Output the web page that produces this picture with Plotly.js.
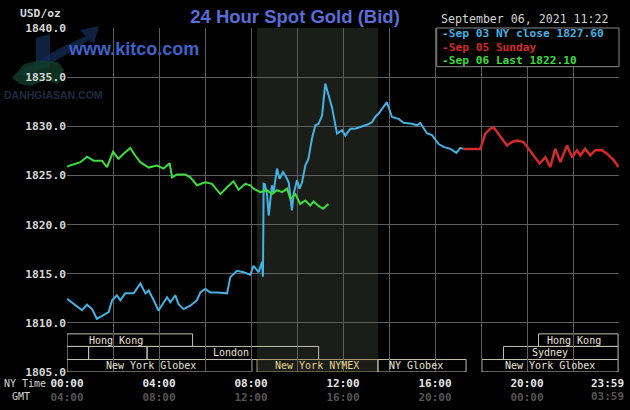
<!DOCTYPE html>
<html><head><meta charset="utf-8">
<script src="https://cdn.plot.ly/plotly-3.0.1.min.js"></script>
<style>html,body{margin:0;padding:0;background:#000;}#chart{width:630px;height:410px;}</style>
</head><body><div id="chart"></div>
<script>
// Time in hours (New York time), price in USD/oz
const sep03Hours = [0,0.29,0.65,0.87,1.09,1.3,1.59,1.81,1.96,2.17,2.32,2.53,2.9,3.19,3.41,3.55,3.77,3.98,4.35,4.49,4.71,4.85,5.07,5.36,5.65,5.8,6.01,6.23,6.52,6.96,7.1,7.39,7.68,7.97,8.11,8.33,8.48,8.52,8.55,8.6,8.7,8.77,8.91,8.98,9.13,9.24,9.39,9.49,9.64,9.78,9.85,10.0,10.11,10.22,10.36,10.5,10.65,10.8,10.94,11.09,11.23,11.37,11.52,11.74,11.96,12.1,12.32,12.53,12.75,13.04,13.26,13.4,13.55,13.7,13.91,14.13,14.42,14.63,15.0,15.22,15.36,15.65,15.87,16.16,16.37,16.67,16.93,17.1,17.24];
const sep03Price = [1812.45,1811.9,1811.3,1811.85,1811.4,1810.4,1810.75,1811.1,1812.3,1812.8,1812.3,1813.0,1813.0,1814.0,1813.0,1813.3,1812.3,1811.25,1812.6,1812.1,1812.8,1811.9,1811.4,1811.75,1812.3,1813.1,1813.45,1813.1,1813.1,1813.0,1814.65,1815.3,1815.15,1814.9,1815.8,1815.15,1816.2,1814.7,1824.15,1824.1,1823.0,1820.9,1824.0,1823.3,1825.7,1824.65,1825.35,1825.0,1824.3,1821.45,1823.1,1824.5,1823.65,1824.3,1826.0,1826.7,1828.75,1830.1,1830.25,1831.1,1834.35,1833.15,1831.95,1829.25,1829.6,1829.05,1829.75,1829.75,1829.9,1830.15,1830.4,1830.95,1831.3,1831.8,1832.45,1830.95,1830.75,1830.35,1830.25,1830.1,1830.35,1829.3,1829.1,1828.2,1827.9,1827.7,1827.3,1827.8,1827.7];

const sep05Hours = [17.24,17.97,18.19,18.4,18.55,18.7,18.91,19.13,19.35,19.57,19.85,20.07,20.29,20.55,20.8,21.01,21.23,21.45,21.74,21.96,22.17,22.32,22.53,22.75,22.97,23.26,23.48,23.77,23.98];
const sep05Price = [1827.7,1827.7,1829.25,1829.75,1829.9,1829.4,1828.75,1828.05,1828.4,1828.55,1828.4,1827.7,1827.05,1826.2,1826.85,1825.85,1827.7,1826.35,1828.05,1826.85,1827.55,1827.05,1827.7,1827.05,1827.55,1827.55,1827.2,1826.55,1825.85];

const sep06Hours = [0,0.29,0.58,0.87,1.16,1.52,1.74,2.0,2.24,2.46,2.75,2.97,3.19,3.55,3.91,4.2,4.46,4.57,4.78,5.14,5.36,5.65,6.01,6.3,6.67,6.96,7.24,7.46,7.75,7.97,8.11,8.4,8.7,8.91,9.13,9.35,9.57,9.71,9.93,10.14,10.36,10.58,10.72,10.94,11.13,11.37];
const sep06Price = [1825.9,1826.1,1826.35,1826.9,1826.5,1826.5,1825.85,1827.4,1826.7,1827.2,1827.8,1827.0,1826.35,1825.8,1826.0,1825.7,1826.25,1824.8,1825.1,1825.1,1824.8,1824.0,1824.3,1824.15,1823.1,1823.8,1824.4,1823.55,1824.15,1824.0,1823.65,1823.3,1823.5,1823.1,1823.5,1823.3,1823.65,1822.6,1823.1,1822.1,1822.45,1821.95,1822.35,1821.9,1821.6,1822.1];

const seriesNames = ["Sep 03 NY close 1827.60", "Sep 05 Sunday", "Sep 06 Last 1822.10"];

const tickHours   = [0,2,4,6,8,10,12,14,16,18,20,22,24];
const nyTimeLabels = ["00:00","","04:00","","08:00","","12:00","","16:00","","20:00","",""];
const gmtLabels    = ["04:00","","08:00","","12:00","","16:00","","20:00","","00:00","",""];
const endNyLabel = "23:59";
const endGmtLabel = "03:59";

const sessionNames = ["Hong Kong","","","London","New York Globex","New York NYMEX","NY Globex","New York Globex","Sydney","Hong Kong"];
const sessionRow   = [0,1,1,1,2,2,2,2,1,0];
const sessionStart = [0,0,0.94,3.48,0,8.26,13.52,18.04,18.98,20.5];
const sessionEnd   = [5.46,0.94,3.48,10.94,8.04,13.52,17.35,23.96,23.96,23.96];
const sessionLabelHour = [2.12,null,null,7.15,3.64,10.88,15.19,20.98,21.0,22.05];

const headerDate = "September 06, 2021 11:22";

// ---------- styling / layout ----------
const mono = "DejaVu Sans Mono";
const colBlue = "#44b2e2", colRed = "#d42a2a", colGreen = "#3edc3e";
const gridCol = "#5e5e5e";
const L = 67, R = 11, T = 28, B = 38, W = 630, H = 410;
const PW = W - L - R, PH = H - T - B;
const px2x = p => (p - L) / PW;
const py2y = p => (H - B - p) / PH;
const rowEdges = [1808.88, 1807.6, 1806.27, 1805.0];

const traces = [
  {x: sep03Hours, y: sep03Price, name: seriesNames[0], mode: "lines", line: {color: colBlue, width: 2}},
  {x: sep05Hours, y: sep05Price, name: seriesNames[1], mode: "lines", line: {color: colRed, width: 2.5}},
  {x: sep06Hours, y: sep06Price, name: seriesNames[2], mode: "lines", line: {color: colGreen, width: 2}}
];

const nymexIdx = sessionNames.indexOf("New York NYMEX");
const shapes = [];
// faint watermark logo (top-left)
const wm = (pts) => "M" + pts.map(p => px2x(p[0]).toFixed(4) + "," + py2y(p[1]).toFixed(4)).join(" L") + " Z";
shapes.push({type: "path", xref: "paper", yref: "paper", path: wm([[36,68],[36,38],[50,34],[50,68]]),
  fillcolor: "#122a50", line: {width: 0}, layer: "below", opacity: 0.8});
shapes.push({type: "path", xref: "paper", yref: "paper", path: wm([[20,72],[60,48],[86,36],[80,30],[99,26],[94,44],[89,40],[64,56],[26,78]]),
  fillcolor: "#122a50", line: {width: 0}, layer: "below", opacity: 0.8});
shapes.push({type: "path", xref: "paper", yref: "paper", path: wm([[12,78],[24,64],[40,60],[58,62],[64,70],[58,84],[46,80],[30,86],[20,84]]),
  fillcolor: "#123c28", line: {width: 0}, layer: "below", opacity: 0.8});

shapes.push({type: "rect", xref: "x", yref: "paper", x0: sessionStart[nymexIdx], x1: sessionEnd[nymexIdx], y0: 0, y1: 1,
  fillcolor: "#1b1d19", line: {width: 0}, layer: "below"});
const annotations = [];
sessionNames.forEach((n, i) => {
  const r = sessionRow[i];
  const isNymex = i === nymexIdx;
  shapes.push({type: "rect", xref: "x", yref: "y", x0: sessionStart[i], x1: sessionEnd[i],
    y0: rowEdges[r + 1], y1: rowEdges[r], line: {color: isNymex ? "#a89c6c" : "#c4c0b0", width: 1}, layer: "below"});
  if (n) annotations.push({xref: "x", yref: "y", x: sessionLabelHour[i], y: (rowEdges[r] + rowEdges[r + 1]) / 2,
    text: n, showarrow: false, xanchor: "center", yanchor: "middle", borderpad: 0,
    font: {family: mono, size: 10, color: isNymex ? "#e6d690" : "#e8e4d8"}});
});

// legend box
shapes.push({type: "rect", xref: "paper", yref: "paper", x0: px2x(436.7), x1: 1, y0: py2y(66.7), y1: 1,
  fillcolor: "#000", line: {color: "#8a8a8a", width: 1}, layer: "above"});
const legendCols = [colBlue, colRed, colGreen];
const legendY = [33.6, 47, 60.4];
seriesNames.forEach((n, i) => {
  annotations.push({xref: "paper", yref: "paper", x: px2x(440.5), y: py2y(legendY[i]), xanchor: "left", yanchor: "middle",
    text: "-" + n, showarrow: false, borderpad: 0,
    font: {family: mono, size: 11.2, color: legendCols[i], weight: "bold"}});
});
annotations.push({xref: "paper", yref: "paper", x: px2x(440), y: py2y(19), xanchor: "left", yanchor: "middle", borderpad: 0,
  text: headerDate, showarrow: false, font: {family: mono, size: 11.6, color: "#d4d4d4"}});
annotations.push({xref: "paper", yref: "paper", x: px2x(62), y: py2y(13.5), xanchor: "right", yanchor: "middle", borderpad: 0,
  text: "USD/oz", showarrow: false, font: {family: mono, size: 11.3, color: "#d8d8d8", weight: "bold"}});
annotations.push({xref: "paper", yref: "paper", x: px2x(67), y: py2y(48.5), xanchor: "left", yanchor: "middle", borderpad: 0,
  text: "www.kitco.com", showarrow: false, font: {family: "Liberation Sans", size: 18, color: "#3f62c8", weight: "bold"}});
annotations.push({xref: "paper", yref: "paper", x: px2x(3), y: py2y(95), xanchor: "left", yanchor: "middle", borderpad: 0,
  text: "DANHGIASAN.COM", showarrow: false, font: {family: "Liberation Sans", size: 10.5, color: "#1c2c40", weight: "bold"}});
annotations.push({xref: "paper", yref: "paper", x: px2x(2.5), y: py2y(383), xanchor: "left", yanchor: "middle", borderpad: 0,
  text: "NY Time", showarrow: false, font: {family: mono, size: 10, color: "#d4d4d4"}});
annotations.push({xref: "paper", yref: "paper", x: px2x(10.5), y: py2y(397), xanchor: "left", yanchor: "middle", borderpad: 0,
  text: "GMT", showarrow: false, font: {family: mono, size: 10, color: "#d4d4d4"}});
annotations.push({xref: "paper", yref: "paper", x: px2x(625), y: py2y(383), xanchor: "right", yanchor: "middle", borderpad: 0,
  text: endNyLabel, showarrow: false, font: {family: mono, size: 11, color: "#e6e6e6", weight: "bold"}});
annotations.push({xref: "paper", yref: "paper", x: px2x(625), y: py2y(397), xanchor: "right", yanchor: "middle", borderpad: 0,
  text: endGmtLabel, showarrow: false, font: {family: mono, size: 11, color: "#555555", weight: "bold"}});

const layout = {
  width: W, height: H,
  margin: {l: L, r: R, t: T, b: B, pad: 0},
  paper_bgcolor: "#000", plot_bgcolor: "#000",
  showlegend: false, hovermode: false,
  title: {text: "24 Hour Spot Gold (Bid)", xref: "container", yref: "container", x: 295 / W, xanchor: "center",
    y: 1 - 16.5 / H, yanchor: "middle",
    font: {family: "Liberation Sans", size: 18.5, color: "#5a6cd8", weight: "bold"}},
  xaxis: {range: [0, 24], tickmode: "array", tickvals: tickHours,
    ticktext: tickHours.map((h, i) => nyTimeLabels[i] ? nyTimeLabels[i] + '<br><span style="color:#555555">' + gmtLabels[i] + '</span>' : ""),
    showgrid: true, gridcolor: gridCol, gridwidth: 1, zeroline: false, showline: false, ticks: "", ticklabelstandoff: 3,
    tickfont: {family: mono, size: 11, color: "#e6e6e6", weight: "bold"}, fixedrange: true},
  yaxis: {range: [1805, 1840], tickmode: "linear", tick0: 1805, dtick: 5, tickformat: ".1f",
    showgrid: true, gridcolor: gridCol, gridwidth: 1, zeroline: false, showline: false, ticks: "",
    tickfont: {family: mono, size: 11.3, color: "#d8d8d8", weight: "bold"}, fixedrange: true},
  shapes: shapes,
  annotations: annotations
};

Plotly.newPlot("chart", traces, layout, {staticPlot: true, displayModeBar: false});
</script>
</body></html>
